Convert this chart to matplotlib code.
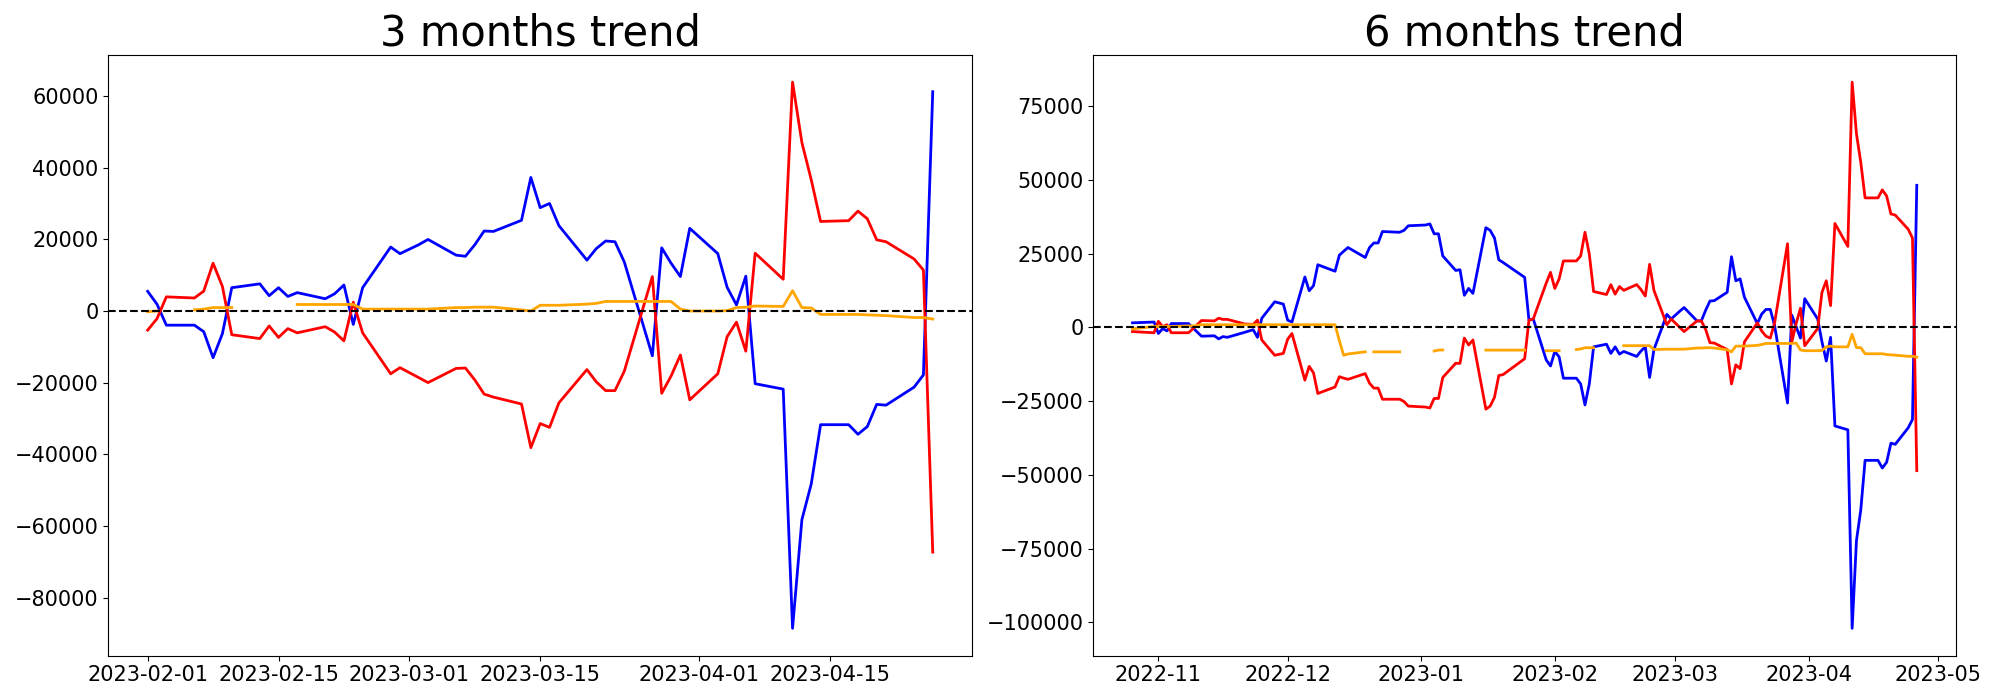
import matplotlib
matplotlib.use("Agg")
import matplotlib.pyplot as plt
import numpy as np
import pandas as pd

nan = np.nan

# ---------------- 3 months ----------------
dates_3m = [
    "2023-02-01", "2023-02-02", "2023-02-03", "2023-02-06", "2023-02-07", "2023-02-08", "2023-02-09", "2023-02-10",
    "2023-02-13", "2023-02-14", "2023-02-15", "2023-02-16", "2023-02-17", "2023-02-20", "2023-02-21", "2023-02-22",
    "2023-02-23", "2023-02-24", "2023-02-27", "2023-02-28",
    "2023-03-02", "2023-03-03", "2023-03-06", "2023-03-07", "2023-03-08", "2023-03-09", "2023-03-10", "2023-03-13",
    "2023-03-14", "2023-03-15", "2023-03-16", "2023-03-17", "2023-03-20", "2023-03-21", "2023-03-22", "2023-03-23",
    "2023-03-24", "2023-03-27", "2023-03-28", "2023-03-29", "2023-03-30", "2023-03-31",
    "2023-04-03", "2023-04-04", "2023-04-05", "2023-04-06", "2023-04-07", "2023-04-10", "2023-04-11", "2023-04-12",
    "2023-04-13", "2023-04-14", "2023-04-17", "2023-04-18", "2023-04-19", "2023-04-20", "2023-04-21", "2023-04-24",
    "2023-04-25", "2023-04-26",
]
blue_3m = [
    5500, 1900, -3950, -3950, -5770, -13030, -6300, 6500, 7580, 4270, 6500, 4060, 5130, 3420, 4800, 7260,
    -3740, 6500, 17840, 16000,
    18500, 19970, 15590, 15270, 18480, 22320, 22210, 25310, 37270, 28840, 30010, 23820, 14200, 17410, 19540, 19330,
    13670, -12500, 17620, 13350, 9610, 23070,
    16020, 6620, 1710, 9720, -20290, -21790, -88540, -58210, -48270, -31720, -31720, -34390, -32250, -26060, -26270,
    -21250, -17840, 61200,
]
red_3m = [
    -5340, -2140, 3950, 3630, 5550, 13350, 6840, -6620, -7690, -4170, -7370, -4910, -6090, -4380, -5870, -8330,
    2460, -6090, -17520, -15810,
    -18580, -19970, -16020, -15910, -19220, -23180, -24030, -25950, -38130, -31400, -32470, -25630, -16340, -19760,
    -22210, -22210, -16770, 9610, -22960, -18160, -12280, -24780,
    -17520, -7160, -3100, -11210, 16130, 8860, 63870, 46990, 36630, 24990, 25210, 27880, 25740, 19870, 19330,
    14530, 11430, -67280,
]
orange_3m = [
    -200, 0, nan, 320, 530, 960, 960, 960, nan, nan, nan, nan, 1820, 1820, 1820, 1820,
    1820, 530, 530, 530,
    530, 530, 960, 960, 1070, 1070, 1070, 320, 0, 1600, 1600, 1600, 1920, 2140, 2670, 2670,
    2670, 2670, 2670, 2670, 530, 0,
    0, 100, 960, 1070, 1390, 1280, 5660, 960, 850, -960, -960, -960, -1070, -1180, -1280,
    -1820, -1820, -2240,
]

# ---------------- 6 months ----------------
dates_6m = [
    "2022-10-26", "2022-10-31", "2022-11-01", "2022-11-02", "2022-11-03", "2022-11-04", "2022-11-08", "2022-11-09",
    "2022-11-11", "2022-11-14", "2022-11-15", "2022-11-16", "2022-11-17", "2022-11-21", "2022-11-23", "2022-11-24",
    "2022-11-25", "2022-11-28", "2022-11-30", "2022-12-01", "2022-12-02", "2022-12-05", "2022-12-06", "2022-12-07",
    "2022-12-08", "2022-12-12", "2022-12-13", "2022-12-14", "2022-12-15", "2022-12-19", "2022-12-20", "2022-12-21",
    "2022-12-22", "2022-12-23", "2022-12-26", "2022-12-27", "2022-12-28", "2022-12-29", "2023-01-02", "2023-01-03",
    "2023-01-04", "2023-01-05", "2023-01-06", "2023-01-09", "2023-01-10", "2023-01-11", "2023-01-12", "2023-01-13",
    "2023-01-16", "2023-01-17", "2023-01-18", "2023-01-19", "2023-01-20", "2023-01-25", "2023-01-26", "2023-01-27",
    "2023-01-30", "2023-01-31",
] + dates_3m
blue_6m = [
    1550, 1810, -2070, -390, -1200, 1300, 1300, -130, -2980, -2850, -3890, -3110, -3370, -1680, -780, -3370,
    3110, 8680, 7900, 2460, 1810, 17090, 12430, 14120, 21240, 19040, 24480, 25800, 27070, 23700, 27070, 28620,
    28620, 32500, 32300, 32250, 32890, 34450, 34700, 35090, 31730, 31730, 24220, 19300, 19550, 10880, 13210, 11530,
    33800, 32890, 30300, 22920, 22000, 16960, 2460, 2850, -11000, -13080,
    -8160, -10000, -17220, -17220, -19170, -26290, -19170, -6600, -5700, -8810, -6600, -9060, -8160, -9840, -8000,
    -6600, -16960, -7510, 4400, 2850,
    5500, 6730, 2200, 2200, 5800, 8940, 9060, 11910, 23960, 15800, 16450, 10230, 1300, 4500, 6090, 6090, 650,
    -25640, 4140, 260, -3630, 9710,
    2850, -4920, -11400, -3370, -33410, -34710, -102000, -72260, -61900, -45070, -45070, -47660, -45710, -39240,
    -39630, -34060, -31210, 48170,
]
red_6m = [
    -1420, -1810, 2070, 260, 900, -1810, -1810, -500, 2330, 2200, 3110, 2700, 2720, 1170, 1000, 2460,
    -4270, -9450, -8810, -4010, -2070, -17870, -13210, -15410, -22400, -20200, -16710, -17200, -17610, -15670,
    -18910, -20590, -20590, -24350, -24350, -24350, -25120, -26680, -27000, -27320, -24090, -24090, -16970, -12170,
    -12170, -3630, -5960, -4270, -27710, -26680, -23700, -16320, -16000, -10620, 2460, 2850, 15000, 18650,
    13210, 16450, 22530, 22530, 24220, 32250, 24860, 12170, 11140, 14500, 11270, 13860, 12560, 14500, 12800,
    10620, 21370, 12560, 900, 2850,
    0, -1420, 2200, 2200, -700, -5180, -5300, -7510, -19170, -12690, -13990, -4920, 1550, -1200, -2980, -3630,
    1500, 28360, -4920, 1300, 6480, -6220,
    -390, 11910, 15800, 7380, 35220, 27450, 83140, 65660, 55940, 43900, 43900, 46620, 44550, 38460, 38070,
    33280, 30300, -48560,
]
orange_6m = [
    -500, 300, 300, 300, 300, 300, 500, 500, 900, 900, 900, 900, 900, 900, 900, 900,
    900, 900, 900, 900, 900, 900, 900, 900, 900, 900, -4500, -9450, -9000, -8290, nan, -8290,
    -8290, -8290, -8290, -8290, nan, nan, nan, nan, -8000, -7700, -7650, nan, nan, nan, nan, nan,
    -7700, -7700, -7700, -7700, -7700, -7700, nan, nan, -7900, -7900,
    -7900, -7900, nan, -7500, -7300, -6900, -6900, -6900, nan, nan, nan, nan, -6200, -6200, -6200,
    -6200, -6200, -7500, -7400, -7400,
    -7400, -7380, -7000, -6990, -6900, -6900, -6990, -7600, -8290, -6350, -6350, -6350, -6090, -5800, -5440,
    -5440, -5440, -5440, -5440, -5310, -7640, -7900,
    -7900, -7800, -6600, -6350, -6600, -6600, -2330, -6860, -6860, -8940, -8940, -8940, -9190, -9300, -9400,
    -9800, -9800, -10100,
]

titles = ["3 months trend", "6 months trend"]

fig = plt.figure(figsize=(20, 7), dpi=100)
ax1 = fig.add_axes([0.0542, 0.0634, 0.4318, 0.8583])
ax2 = fig.add_axes([0.54665, 0.0634, 0.43135, 0.8583])

panels = [
    (ax1, dates_3m, blue_3m, red_3m, orange_3m, titles[0]),
    (ax2, dates_6m, blue_6m, red_6m, orange_6m, titles[1]),
]
for ax, d, b, r, o, t in panels:
    x = pd.to_datetime(d)
    ax.plot(x, b, color="blue", lw=2)
    ax.plot(x, r, color="red", lw=2)
    ax.plot(x, o, color="orange", lw=2)
    ax.axhline(0, color="black", linestyle="--", lw=1.5)
    ax.set_title(t, fontsize=30)
    ax.tick_params(labelsize=15)

fig.savefig("out.png", dpi=100)
